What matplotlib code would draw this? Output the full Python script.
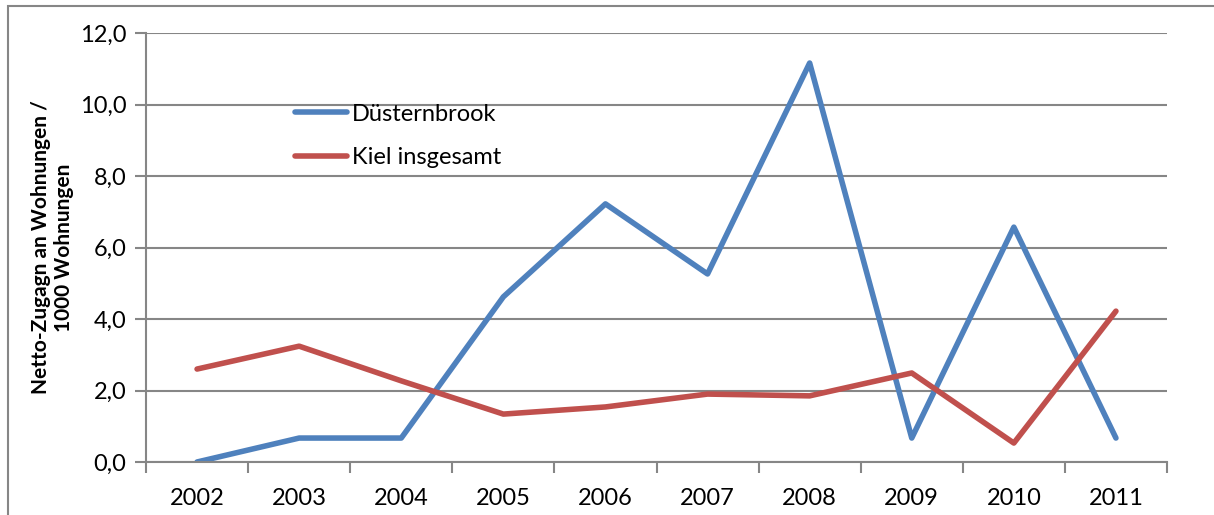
import matplotlib.pyplot as plt
from matplotlib.patches import Rectangle
from matplotlib.ticker import FixedLocator, FuncFormatter

# values
years = ['2002', '2003', '2004', '2005', '2006', '2007', '2008', '2009', '2010', '2011']
duesternbrook = [0.0, 0.67, 0.67, 4.62, 7.22, 5.26, 11.16, 0.67, 6.57, 0.67]
kiel = [2.60, 3.24, 2.27, 1.34, 1.54, 1.90, 1.85, 2.49, 0.53, 4.22]

BLUE, RED, GREY = '#4F81BD', '#C0504D', '#868686'

plt.rcParams['font.family'] = ['Lato', 'DejaVu Sans']

W, H = 1214, 515
fig = plt.figure(figsize=(W / 100, H / 100), dpi=100)
ax = fig.add_axes([146 / W, 1 - 462 / H, (1167 - 146) / W, (462 - 33) / H])

# outer chart border (cut off at right and bottom like the source)
fig.patches.append(Rectangle((8 / W, -0.1), 1.2, 1 - 6 / H + 0.1, transform=fig.transFigure,
                             fill=False, edgecolor=GREY, lw=1.5))

x = range(len(years))
ax.plot(x, duesternbrook, color=BLUE, lw=4, solid_capstyle='round', label='Düsternbrook')
ax.plot(x, kiel, color=RED, lw=4, solid_capstyle='round', label='Kiel insgesamt')

ax.set_xlim(-0.5, len(years) - 0.5)
ax.set_ylim(0, 12)
ax.set_yticks([0, 2, 4, 6, 8, 10, 12])
ax.yaxis.set_major_formatter(FuncFormatter(lambda v, p: f'{v:.1f}'.replace('.', ',')))
ax.yaxis.grid(True, color=GREY, lw=1.5)
ax.set_axisbelow(True)

ax.set_xticks(list(x))
ax.set_xticklabels(years)
ax.tick_params(axis='x', which='major', length=0, pad=19, labelsize=17)
ax.xaxis.set_minor_locator(FixedLocator([i - 0.5 for i in range(len(years) + 1)]))
ax.tick_params(axis='x', which='minor', length=8, width=1.5, color=GREY)
ax.tick_params(axis='y', length=8, width=1.5, color=GREY, pad=6, labelsize=17)

for s in ['top', 'right']:
    ax.spines[s].set_visible(False)
for s in ['left', 'bottom']:
    ax.spines[s].set_color(GREY)
    ax.spines[s].set_linewidth(1.5)

ax.set_ylabel('Netto-Zugagn an Wohnungen /\n1000 Wohnungen', fontsize=15, fontweight='bold',
              labelpad=4, linespacing=1.2)

ax.legend(loc='upper left', bbox_to_anchor=(0.125, 0.885), frameon=False, fontsize=17,
          handlelength=2.2, labelspacing=0.95, handletextpad=0.2)

fig.savefig('out.png', dpi=100)
